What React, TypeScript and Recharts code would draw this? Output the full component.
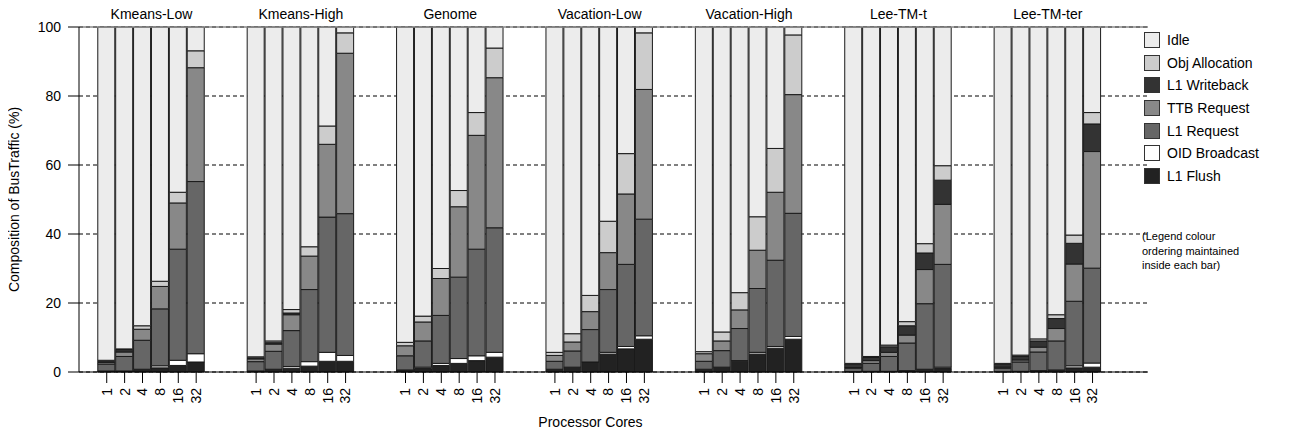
import { Bar, BarChart, CartesianGrid, ReferenceLine, XAxis, YAxis } from "recharts";

const benchmarks = ["Kmeans-Low", "Kmeans-High", "Genome", "Vacation-Low", "Vacation-High", "Lee-TM-t", "Lee-TM-ter"];
const cores = ["1", "2", "4", "8", "16", "32"];

// one row per benchmark, one value per core count (1..32), % of bus traffic
const l1Flush = [
  [0.3, 0.3, 0.8, 1.2, 1.9, 2.9],
  [0.3, 0.8, 1.1, 1.7, 3.1, 3.1],
  [0.6, 1.0, 1.9, 2.5, 3.3, 4.3],
  [0.8, 1.4, 2.9, 5.2, 6.7, 9.5],
  [0.8, 1.4, 3.1, 5.2, 6.9, 9.5],
  [0.1, 0.2, 0.2, 0.4, 0.8, 1.0],
  [0.1, 0.2, 0.4, 0.6, 1.2, 1.4],
];
const oidBroadcast = [
  [0, 0, 0, 0.6, 1.5, 2.4],
  [0, 0, 0.5, 1.3, 2.6, 1.7],
  [0, 0.4, 0.6, 1.4, 1.4, 1.4],
  [0, 0, 0, 0.5, 0.7, 1.0],
  [0, 0, 0.2, 0.5, 0.5, 0.8],
  [0, 0, 0, 0, 0, 0.4],
  [0, 0, 0, 0, 0.6, 1.2],
];
const l1Request = [
  [2.0, 4.2, 8.4, 16.5, 32.2, 49.9],
  [2.7, 5.2, 10.4, 20.9, 39.2, 41.1],
  [4.1, 7.6, 13.9, 23.6, 30.9, 36.1],
  [2.3, 4.7, 9.4, 18.2, 23.8, 33.8],
  [2.3, 4.8, 9.3, 18.5, 25.0, 35.7],
  [1.0, 2.3, 4.3, 8.0, 19.0, 29.8],
  [1.0, 2.7, 5.4, 8.4, 18.7, 27.5],
];
const ttbRequest = [
  [0.5, 1.3, 3.2, 6.5, 13.4, 33.0],
  [0.8, 2.1, 4.6, 9.7, 21.1, 46.5],
  [2.9, 5.5, 10.7, 20.4, 33.0, 43.5],
  [1.7, 2.6, 5.2, 10.7, 20.4, 37.6],
  [2.2, 2.8, 5.4, 11.1, 19.7, 34.4],
  [0.2, 0.8, 1.2, 2.3, 9.9, 17.4],
  [0.3, 0.6, 1.4, 3.6, 10.8, 33.8],
];
const l1Writeback = [
  [0.3, 0.7, 0, 0, 0, 0],
  [0.3, 0.4, 0.5, 0, 0, 0],
  [0, 0, 0, 0, 0, 0],
  [0, 0, 0, 0, 0, 0],
  [0, 0, 0, 0, 0, 0],
  [1.0, 0.9, 1.6, 2.7, 4.8, 7.0],
  [0.9, 1.0, 1.8, 2.9, 6.0, 8.0],
];
const objAllocation = [
  [0.3, 0.2, 1.0, 1.5, 3.1, 4.9],
  [0.3, 0.5, 1.0, 2.7, 5.3, 5.9],
  [1.0, 1.7, 2.9, 4.7, 6.6, 8.6],
  [0.9, 2.4, 4.7, 9.1, 11.7, 16.4],
  [0.6, 2.6, 5.0, 9.7, 12.7, 17.3],
  [0.2, 0.3, 0.5, 1.2, 2.7, 4.2],
  [0.2, 0.4, 0.6, 1.1, 2.4, 3.3],
];
const idle = [
  [96.6, 93.3, 86.6, 73.7, 47.9, 6.9],
  [95.6, 91.0, 81.9, 63.7, 28.7, 1.7],
  [91.4, 83.8, 70.0, 47.4, 24.8, 6.1],
  [94.3, 88.9, 77.8, 56.3, 36.7, 1.7],
  [94.1, 88.4, 77.0, 55.0, 35.2, 2.3],
  [97.5, 95.5, 92.2, 85.4, 62.8, 40.2],
  [97.5, 95.1, 90.4, 83.4, 60.3, 24.8],
];

// stacking order: bottom first
const seriesList = [
  { key: "l1Flush", name: "L1 Flush", fill: "#222222", values: l1Flush },
  { key: "oidBroadcast", name: "OID Broadcast", fill: "#ffffff", values: oidBroadcast },
  { key: "l1Request", name: "L1 Request", fill: "#666666", values: l1Request },
  { key: "ttbRequest", name: "TTB Request", fill: "#888888", values: ttbRequest },
  { key: "l1Writeback", name: "L1 Writeback", fill: "#333333", values: l1Writeback },
  { key: "objAllocation", name: "Obj Allocation", fill: "#cccccc", values: objAllocation },
  { key: "idle", name: "Idle", fill: "#ececec", values: idle },
];

const GROUP_STEP = 8.35;
const X_DOMAIN = [-1.55, 58.2];
const FONT = "'Liberation Sans', Arial, sans-serif";

const dados = benchmarks.flatMap((bench, g) =>
  cores.map((core, i) => {
    const row: Record<string, number | string> = { pos: g * GROUP_STEP + i, bench, core };
    seriesList.forEach((s) => {
      row[s.key] = s.values[g][i];
    });
    return row;
  })
);
const barTicks = dados.map((d) => d.pos as number);
const groupTicks = benchmarks.map((_, g) => g * GROUP_STEP + 2.5);

const CoreTick = (props: any) => {
  const { x, y, index } = props;
  return (
    <text x={x} y={y} transform={`rotate(-90, ${x}, ${y})`} textAnchor="end" dy="0.35em" fontSize={14} fill="#000">
      {cores[index % cores.length]}
    </text>
  );
};

const LegendBox = () => (
  <div style={{ position: "absolute", left: 1144, top: 29, fontSize: 14, color: "#000" }}>
    {[...seriesList].reverse().map((s) => (
      <div key={s.key} style={{ display: "flex", alignItems: "center", height: 22.6 }}>
        <span
          style={{
            display: "inline-block",
            width: 14,
            height: 14,
            background: s.fill,
            border: "1px solid #333",
            marginRight: 7,
          }}
        />
        <span>{s.name}</span>
      </div>
    ))}
    <div style={{ marginTop: 42, marginLeft: -2, fontSize: 11, lineHeight: "14.5px", width: 140 }}>
      (Legend colour
      <br />
      ordering maintained
      <br />
      inside each bar)
    </div>
  </div>
);

export default function App() {
  return (
    <div style={{ position: "relative", width: 1299, height: 433, margin: "-8px 0 0 -8px", fontFamily: FONT }}>
      <BarChart width={1299} height={433} data={dados} margin={{ top: 8, right: 151, bottom: 0, left: 8 }}>
        <CartesianGrid vertical={false} stroke="#000" strokeDasharray="4 3" />
        <XAxis
          xAxisId="top"
          orientation="top"
          dataKey="pos"
          type="number"
          domain={X_DOMAIN}
          allowDataOverflow
          ticks={groupTicks}
          interval={0}
          tickFormatter={(_v: number, i: number) => benchmarks[i]}
          axisLine={false}
          tickLine={false}
          tickSize={0}
          tickMargin={8}
          height={19}
          tick={{ fontSize: 14, fill: "#000" }}
        />
        <XAxis
          dataKey="pos"
          type="number"
          domain={X_DOMAIN}
          allowDataOverflow
          ticks={barTicks}
          interval={0}
          tick={<CoreTick />}
          tickSize={11}
          tickMargin={5}
          height={61}
          stroke="#000"
          label={{ value: "Processor Cores", position: "insideBottom", offset: 6, dx: -23, fontSize: 14, fill: "#000" }}
        />
        <YAxis
          domain={[0, 100]}
          ticks={[0, 20, 40, 60, 80, 100]}
          width={71}
          tickSize={11}
          tickMargin={7}
          stroke="#000"
          tick={{ fontSize: 14, fill: "#000" }}
          label={{
            value: "Composition of BusTraffic (%)",
            angle: -90,
            position: "insideLeft",
            offset: 6,
            fontSize: 14,
            fill: "#000",
            style: { textAnchor: "middle" },
          }}
        />
        {seriesList.map((s) => (
          <Bar
            key={s.key}
            dataKey={s.key}
            name={s.name}
            stackId="a"
            fill={s.fill}
            stroke="#1a1a1a"
            strokeWidth={1}
            barSize={17}
            isAnimationActive={false}
          />
        ))}
        <ReferenceLine y={100} stroke="#888" strokeWidth={1.5} />
      </BarChart>
      <LegendBox />
    </div>
  );
}
